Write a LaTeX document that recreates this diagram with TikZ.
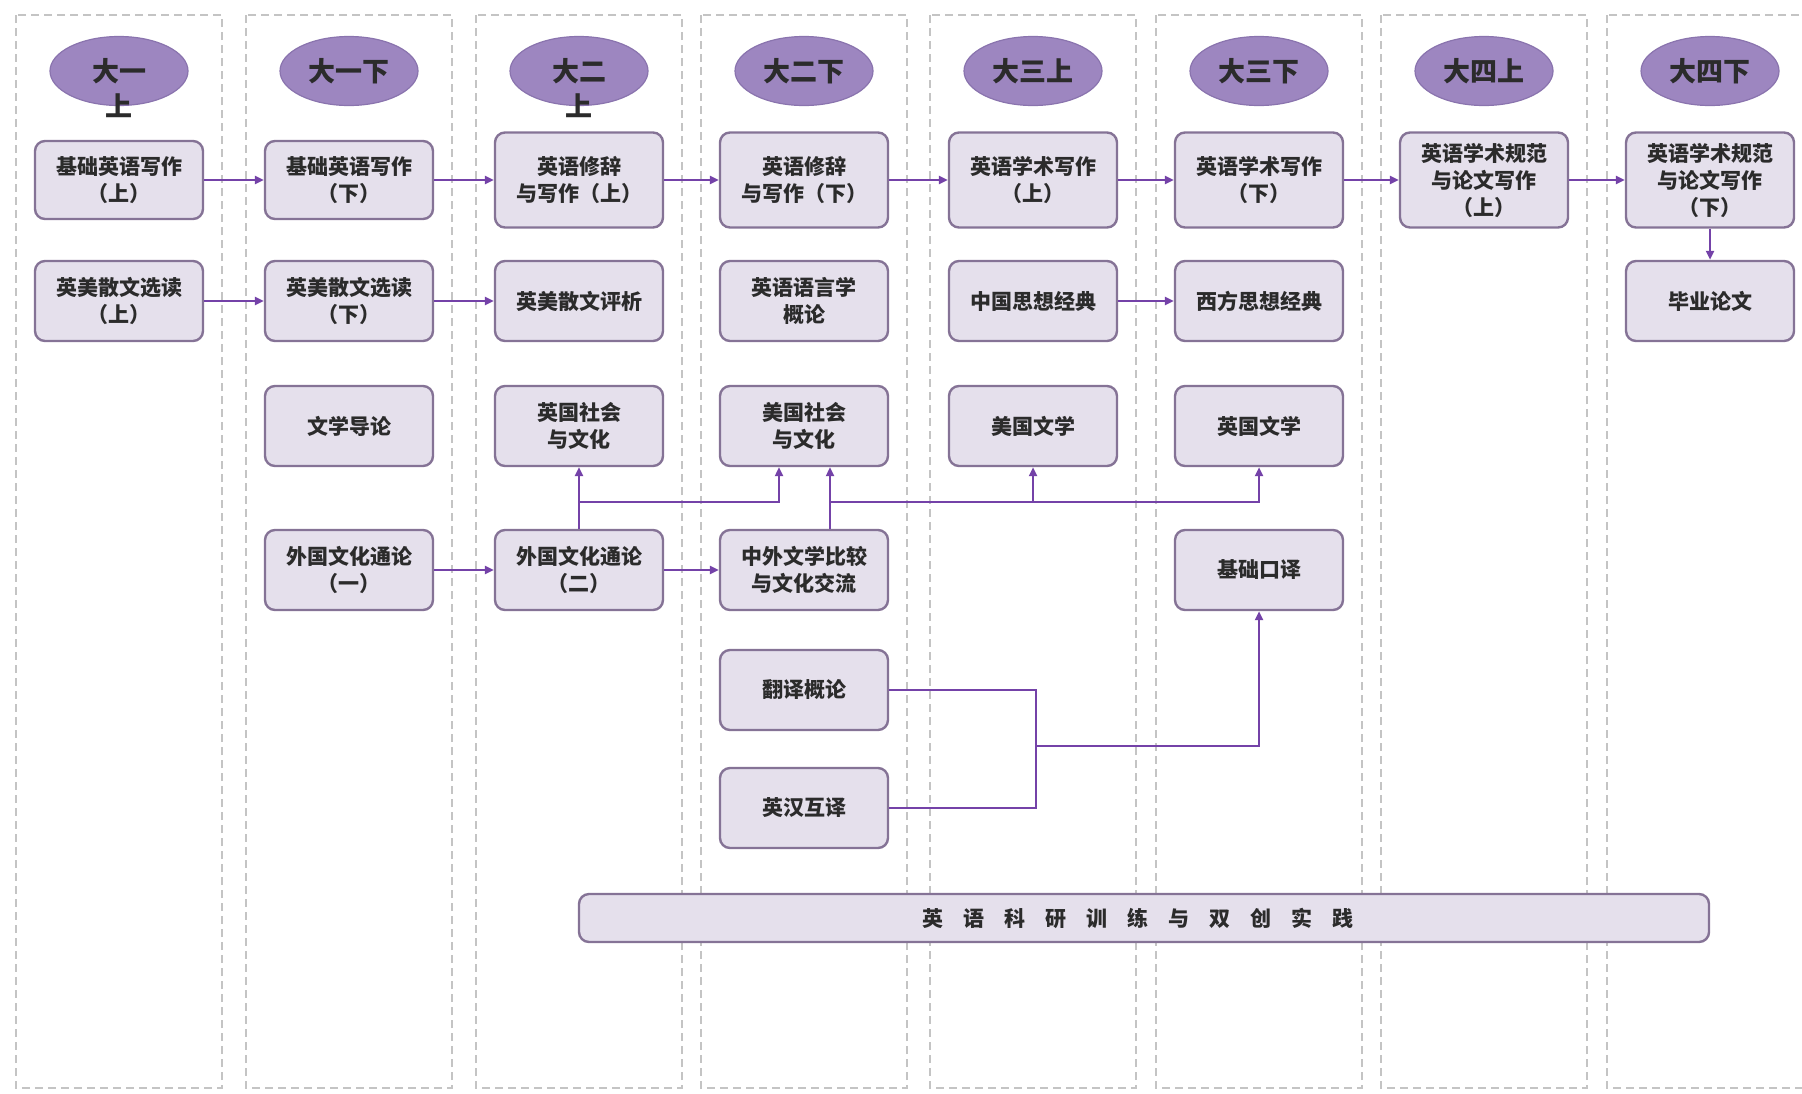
\documentclass[tikz,border=0pt]{standalone}
\usepackage{fontspec}
\newfontfamily\cjk{Noto Sans CJK SC}
\usepackage{xcolor}
\usepackage{tikz}
\usetikzlibrary{
    positioning,
    arrows.meta,
    shapes.geometric
}
\definecolor{boxfill}{HTML}{E5E0EC}
\definecolor{boxline}{HTML}{857396}
\definecolor{termfill}{HTML}{9D86C0}
\definecolor{termline}{HTML}{8A74AE}
\definecolor{flow}{HTML}{7442A8}
\definecolor{lanegray}{HTML}{C4C4C4}
\definecolor{ink}{HTML}{2B2B2B}

\begin{document}
\begin{tikzpicture}[
        x=0.5pt, y=-0.5pt,
        box/.style={draw=boxline, line width=1.2pt, fill=boxfill, rounded corners=5pt, minimum width=84pt, minimum height=40pt, inner sep=2pt, align=center, text=ink, font=\cjk\bfseries\fontsize{10.5}{13.5}\selectfont},
        tallbox/.style={box, minimum height=47.5pt},
        term/.style={ellipse, draw=termline, line width=0.6pt, fill=termfill, minimum width=69pt, minimum height=34.5pt, inner sep=0pt, text=ink, font=\cjk\bfseries\fontsize{13.5}{16}\selectfont},
        termtext/.style={inner sep=0pt, text=ink, font=\cjk\bfseries\fontsize{13.5}{16}\selectfont},
        laneline/.style={draw=lanegray, line width=0.7pt, dash pattern=on 4pt off 2.5pt},
        flowline/.style={draw=flow, line width=1.4pt},
        arr/.style={flowline, -{Triangle[length=4.5pt,width=4pt]}}
      ]
      \clip (0,0) rectangle (1802,1093);

      % semester lanes
      \foreach \cx in {119,349,579,804,1033,1259,1484,1710}
        \draw[laneline] (\cx-103,15) rectangle (\cx+103,1088);

      % semester heads
      \foreach \cx/\lab/\nm in {119/大一/s1, 349/大一下/s2, 579/大二/s3, 804/大二下/s4,
                                1033/大三上/s5, 1259/大三下/s6, 1484/大四上/s7, 1710/大四下/s8}
        \node[term] (\nm) at (\cx,71) {\lab};
      \node[termtext] (s1b) at (119,106) {上};
      \node[termtext] (s3b) at (579,106) {上};

      % writing track
      \node[box, minimum height=39pt] (w1) at (119,180) {基础英语写作\\（上）};
      \node[box, minimum height=39pt] (w2) at (349,180) {基础英语写作\\（下）};
      \node[tallbox] (w3) at (579,180) {英语修辞\\与写作（上）};
      \node[tallbox] (w4) at (804,180) {英语修辞\\与写作（下）};
      \node[tallbox] (w5) at (1033,180) {英语学术写作\\（上）};
      \node[tallbox] (w6) at (1259,180) {英语学术写作\\（下）};
      \node[tallbox] (w7) at (1484,180) {英语学术规范\\与论文写作\\（上）};
      \node[tallbox] (w8) at (1710,180) {英语学术规范\\与论文写作\\（下）};

      % second row
      \node[box] (p1) at (119,301) {英美散文选读\\（上）};
      \node[box] (p2) at (349,301) {英美散文选读\\（下）};
      \node[box] (p3) at (579,301) {英美散文评析};
      \node[box] (l4) at (804,301) {英语语言学\\概论};
      \node[box] (t5) at (1033,301) {中国思想经典};
      \node[box] (t6) at (1259,301) {西方思想经典};
      \node[box] (th8) at (1710,301) {毕业论文};

      % culture and literature
      \node[box] (lit2) at (349,426) {文学导论};
      \node[box] (uk3) at (579,426) {英国社会\\与文化};
      \node[box] (us4) at (804,426) {美国社会\\与文化};
      \node[box] (al5) at (1033,426) {美国文学};
      \node[box] (bl6) at (1259,426) {英国文学};

      \node[box] (fc2) at (349,570) {外国文化通论\\（一）};
      \node[box] (fc3) at (579,570) {外国文化通论\\（二）};
      \node[box] (cmp4) at (804,570) {中外文学比较\\与文化交流};
      \node[box] (it6) at (1259,570) {基础口译};

      % translation
      \node[box] (tr4) at (804,690) {翻译概论};
      \node[box] (ec4) at (804,808) {英汉互译};

      \node[box, minimum width=565pt, minimum height=24pt, font=\cjk\bfseries\fontsize{10.5}{11}\selectfont] (lab) at (1144,918)
        {英\hspace{10pt}语\hspace{10pt}科\hspace{10pt}研\hspace{10pt}训\hspace{10pt}练\hspace{10pt}与\hspace{10pt}双\hspace{10pt}创\hspace{10pt}实\hspace{10pt}践\hspace{6pt}};

      % connectors
      \foreach \a/\b in {w1/w2, w2/w3, w3/w4, w4/w5, w5/w6, w6/w7, w7/w8,
                         p1/p2, p2/p3, t5/t6, fc2/fc3, fc3/cmp4}
        \draw[arr] (\a) -- (\b);
      \draw[arr] (w8) -- (th8);

      \coordinate (j1) at (579,502);
      \coordinate (j2) at (830,502);
      \coordinate (j3) at (1036,746);
      \draw[flowline] (fc3.north) -- (j1);
      \draw[arr] (j1) -- (uk3.south);
      \draw[arr] (j1) -| ([xshift=-12.5pt]us4.south);
      \draw[flowline] ([xshift=13pt]cmp4.north) -- (j2);
      \draw[arr] (j2) -- ([xshift=13pt]us4.south);
      \draw[arr] (j2) -| (al5.south);
      \draw[arr] (j2) -| (bl6.south);

      \draw[flowline] (tr4) -| (j3) |- (ec4);
      \draw[arr] (j3) -| (it6.south);
    \end{tikzpicture}
\end{document}
